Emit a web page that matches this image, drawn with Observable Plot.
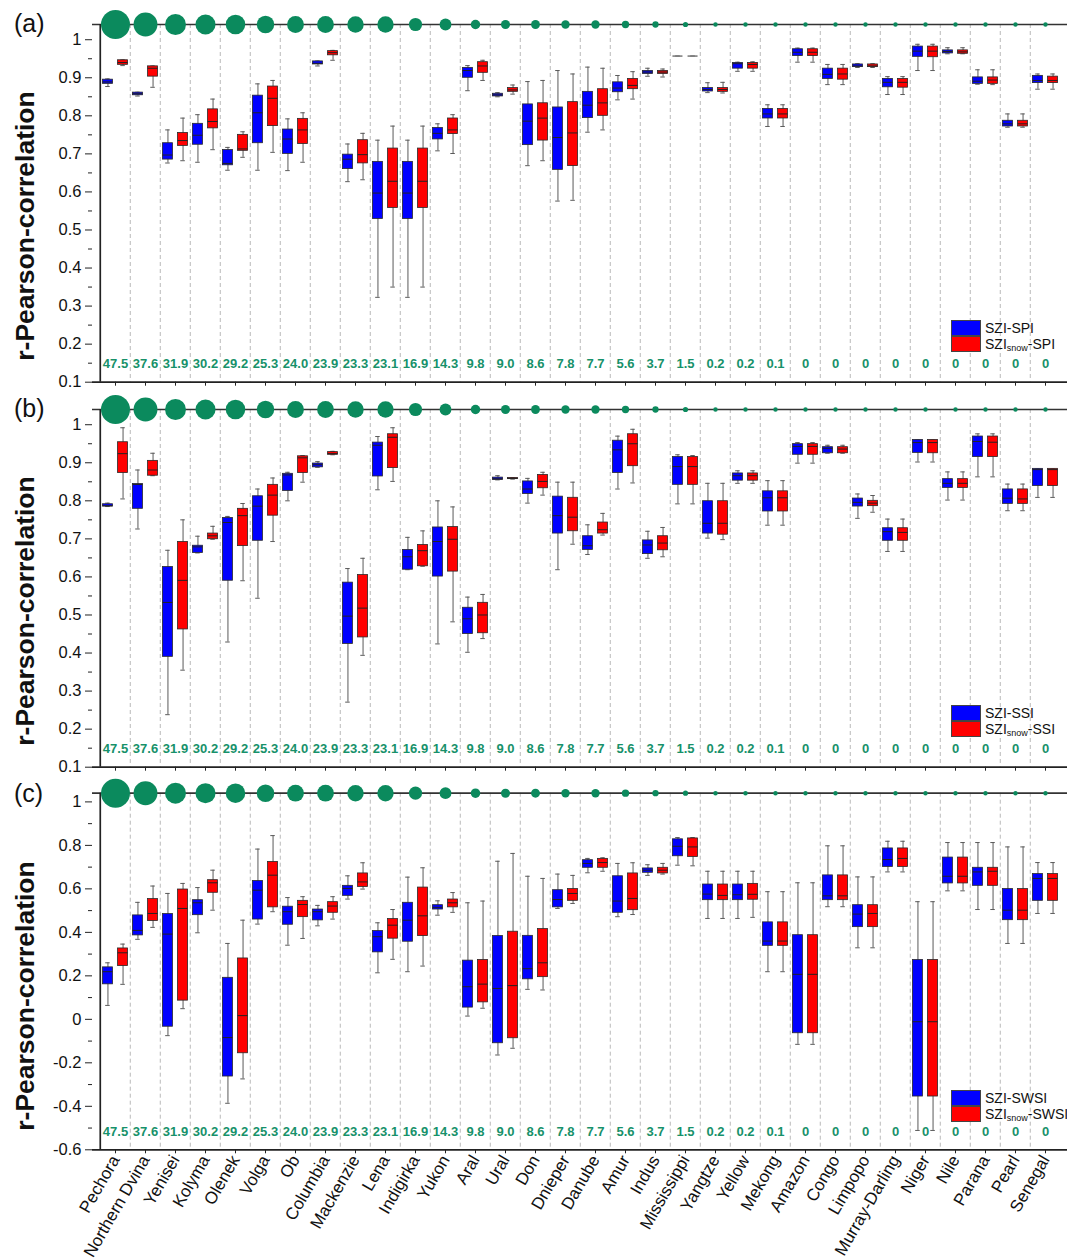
<!DOCTYPE html>
<html><head><meta charset="utf-8">
<script src="https://cdn.jsdelivr.net/npm/d3@7"></script>
<script src="https://cdn.jsdelivr.net/npm/@observablehq/plot@0.6"></script>
<style>
body{margin:0;background:#fff;font-family:"Liberation Sans",Arial,sans-serif;}
#root{position:relative;width:1067px;height:1260px;overflow:hidden;background:#fff;}
.panel{position:absolute;left:0;width:1067px;}
.panel svg{position:absolute;left:0;top:0;}
.plabel{position:absolute;left:14px;top:11px;font-size:25px;line-height:1;color:#111;}
.ytitle{position:absolute;left:-125px;width:300px;height:30px;line-height:30px;text-align:center;font-size:26.5px;font-weight:bold;color:#111;transform:rotate(-90deg);transform-origin:center;}
.legend{position:absolute;left:951px;font-size:14px;color:#111;}
.legend .row{height:16px;line-height:16px;display:flex;align-items:center;white-space:nowrap;}
.legend .sw{display:inline-block;width:28px;height:14px;border:1px solid #444;margin-right:4px;}
.legend sub{font-size:9px;position:relative;top:4px;line-height:0;}
</style></head><body><div id="root"></div>
<script>
const rivers = ["Pechora","Northern Dvina","Yenisei","Kolyma","Olenek","Volga","Ob","Columbia","Mackenzie","Lena","Indigirka","Yukon","Aral","Ural","Don","Dnieper","Danube","Amur","Indus","Mississippi","Yangtze","Yellow","Mekong","Amazon","Congo","Limpopo","Murray-Darling","Niger","Nile","Parana","Pearl","Senegal"];
const snowShare = [47.5,37.6,31.9,30.2,29.2,25.3,24.0,23.9,23.3,23.1,16.9,14.3,9.8,9.0,8.6,7.8,7.7,5.6,3.7,1.5,0.2,0.2,0.1,0,0,0,0,0,0,0,0,0];

// [whisker low, q1, median, q3, whisker high]
const spiBlue = [
[0.877,0.884,0.889,0.895,0.897],[0.852,0.854,0.858,0.861,0.862],[0.676,0.685,0.697,0.728,0.763],[0.678,0.724,0.749,0.779,0.803],
[0.657,0.670,0.675,0.710,0.717],[0.657,0.728,0.808,0.853,0.884],[0.656,0.700,0.739,0.764,0.792],[0.931,0.935,0.938,0.943,0.944],
[0.627,0.660,0.686,0.698,0.726],[0.323,0.529,0.597,0.679,0.736],[0.323,0.529,0.597,0.679,0.736],[0.708,0.738,0.754,0.768,0.779],
[0.866,0.900,0.919,0.926,0.932],[0.850,0.851,0.855,0.858,0.861],[0.669,0.723,0.786,0.830,0.890],[0.576,0.658,0.743,0.822,0.919],
[0.757,0.794,0.828,0.863,0.928],[0.842,0.862,0.873,0.888,0.906],[0.904,0.910,0.915,0.918,0.925],[0.957,0.957,0.957,0.957,0.957],
[0.861,0.864,0.869,0.873,0.887],[0.917,0.924,0.937,0.939,0.941],[0.772,0.793,0.805,0.818,0.829],[0.941,0.957,0.967,0.975,0.978],
[0.882,0.897,0.909,0.924,0.935],[0.927,0.928,0.931,0.935,0.937],[0.856,0.875,0.888,0.897,0.903],[0.919,0.955,0.970,0.982,0.988],
[0.963,0.964,0.969,0.972,0.979],[0.883,0.884,0.891,0.901,0.921],[0.770,0.772,0.779,0.787,0.805],[0.870,0.886,0.893,0.905,0.910]];
const spiRed = [
[0.932,0.934,0.940,0.946,0.947],[0.875,0.903,0.925,0.930,0.931],[0.682,0.721,0.735,0.755,0.794],[0.711,0.767,0.785,0.817,0.844],
[0.691,0.708,0.713,0.750,0.758],[0.704,0.773,0.846,0.877,0.893],[0.678,0.726,0.763,0.792,0.808],[0.946,0.959,0.966,0.970,0.972],
[0.632,0.675,0.698,0.736,0.754],[0.350,0.558,0.628,0.714,0.773],[0.350,0.558,0.628,0.714,0.773],[0.701,0.752,0.763,0.793,0.803],
[0.893,0.913,0.931,0.941,0.946],[0.857,0.863,0.868,0.873,0.881],[0.682,0.735,0.794,0.833,0.893],[0.578,0.668,0.755,0.836,0.910],
[0.763,0.800,0.834,0.870,0.925],[0.844,0.870,0.880,0.897,0.916],[0.902,0.910,0.915,0.918,0.923],[0.957,0.957,0.957,0.957,0.957],
[0.860,0.863,0.869,0.873,0.888],[0.917,0.924,0.935,0.939,0.942],[0.772,0.793,0.805,0.818,0.829],[0.941,0.957,0.967,0.975,0.978],
[0.882,0.895,0.910,0.924,0.935],[0.927,0.928,0.931,0.935,0.937],[0.856,0.874,0.888,0.897,0.903],[0.919,0.954,0.970,0.982,0.988],
[0.963,0.963,0.968,0.972,0.979],[0.882,0.884,0.894,0.901,0.921],[0.770,0.772,0.779,0.787,0.805],[0.870,0.886,0.893,0.903,0.910]];

const ssiBlue = [
[0.785,0.785,0.787,0.791,0.794],[0.726,0.779,0.843,0.844,0.881],[0.238,0.390,0.533,0.626,0.670],[0.663,0.663,0.679,0.682,0.707],
[0.429,0.590,0.743,0.755,0.759],[0.544,0.695,0.786,0.812,0.831],[0.800,0.826,0.868,0.871,0.875],[0.888,0.888,0.895,0.898,0.903],
[0.271,0.424,0.497,0.585,0.622],[0.829,0.864,0.946,0.953,0.969],[0.619,0.619,0.653,0.671,0.704],[0.424,0.601,0.693,0.730,0.800],
[0.402,0.450,0.490,0.519,0.547],[0.855,0.855,0.858,0.861,0.866],[0.794,0.818,0.831,0.851,0.859],[0.619,0.714,0.761,0.811,0.849],
[0.659,0.671,0.682,0.707,0.737],[0.831,0.873,0.934,0.958,0.970],[0.649,0.660,0.684,0.696,0.720],[0.792,0.842,0.890,0.915,0.921],
[0.702,0.714,0.741,0.799,0.846],[0.846,0.853,0.866,0.872,0.879],[0.736,0.772,0.808,0.825,0.853],[0.899,0.921,0.943,0.949,0.953],
[0.925,0.925,0.938,0.941,0.946],[0.754,0.785,0.796,0.806,0.818],[0.667,0.695,0.719,0.728,0.752],[0.902,0.926,0.953,0.960,0.960],
[0.802,0.834,0.846,0.857,0.876],[0.863,0.915,0.956,0.969,0.976],[0.774,0.792,0.807,0.830,0.844],[0.809,0.839,0.882,0.884,0.884]];
const ssiRed = [
[0.805,0.873,0.924,0.954,0.992],[0.866,0.866,0.881,0.905,0.925],[0.355,0.462,0.591,0.692,0.750],[0.699,0.699,0.708,0.714,0.733],
[0.590,0.681,0.761,0.779,0.793],[0.693,0.761,0.815,0.842,0.860],[0.849,0.873,0.913,0.917,0.919],[0.921,0.921,0.924,0.928,0.930],
[0.394,0.441,0.518,0.605,0.649],[0.851,0.886,0.967,0.975,0.992],[0.628,0.628,0.669,0.684,0.721],[0.482,0.614,0.699,0.731,0.784],
[0.438,0.452,0.500,0.532,0.554],[0.857,0.857,0.859,0.860,0.861],[0.815,0.833,0.851,0.868,0.875],[0.686,0.720,0.757,0.808,0.849],
[0.710,0.714,0.724,0.743,0.767],[0.847,0.891,0.950,0.975,0.988],[0.653,0.670,0.689,0.707,0.730],[0.792,0.842,0.890,0.915,0.919],
[0.698,0.711,0.741,0.799,0.846],[0.846,0.853,0.866,0.872,0.879],[0.736,0.772,0.808,0.825,0.853],[0.899,0.921,0.943,0.949,0.953],
[0.925,0.925,0.936,0.941,0.946],[0.770,0.786,0.794,0.800,0.814],[0.667,0.695,0.717,0.728,0.752],[0.902,0.925,0.953,0.960,0.960],
[0.802,0.834,0.846,0.857,0.876],[0.863,0.915,0.954,0.969,0.976],[0.774,0.792,0.805,0.830,0.844],[0.809,0.839,0.882,0.884,0.884]];

const swsiBlue = [
[0.064,0.161,0.219,0.239,0.260],[0.368,0.386,0.409,0.478,0.538],[-0.075,-0.034,0.392,0.484,0.579],[0.398,0.479,0.536,0.548,0.606],
[-0.386,-0.263,-0.084,0.191,0.349],[0.438,0.459,0.594,0.636,0.783],[0.341,0.435,0.495,0.518,0.560],[0.430,0.455,0.495,0.505,0.524],
[0.553,0.568,0.602,0.614,0.660],[0.214,0.308,0.380,0.406,0.444],[0.219,0.357,0.456,0.536,0.654],[0.479,0.505,0.515,0.525,0.545],
[0.015,0.054,0.150,0.270,0.536],[-0.164,-0.110,0.142,0.383,0.727],[0.138,0.184,0.233,0.384,0.658],[0.510,0.515,0.551,0.594,0.668],
[0.674,0.697,0.717,0.732,0.740],[0.472,0.490,0.544,0.658,0.717],[0.662,0.674,0.686,0.694,0.711],[0.709,0.750,0.796,0.828,0.836],
[0.464,0.548,0.576,0.620,0.681],[0.464,0.548,0.573,0.620,0.681],[0.219,0.338,0.360,0.446,0.587],[-0.115,-0.064,0.207,0.387,0.628],
[0.518,0.548,0.568,0.662,0.798],[0.329,0.424,0.484,0.525,0.655],[0.678,0.701,0.735,0.786,0.819],[-0.511,-0.355,-0.011,0.273,0.541],
[0.591,0.625,0.658,0.744,0.813],[0.505,0.614,0.678,0.697,0.813],[0.349,0.456,0.502,0.599,0.793],[0.487,0.545,0.648,0.668,0.721]];
const swsiRed = [
[0.161,0.245,0.306,0.326,0.346],[0.423,0.452,0.487,0.553,0.613],[0.049,0.086,0.510,0.597,0.625],[0.502,0.582,0.628,0.640,0.686],
[-0.274,-0.156,0.017,0.280,0.456],[0.495,0.515,0.663,0.724,0.845],[0.372,0.470,0.528,0.545,0.564],[0.461,0.490,0.521,0.539,0.564],
[0.599,0.609,0.632,0.671,0.720],[0.276,0.371,0.433,0.461,0.505],[0.245,0.383,0.476,0.606,0.697],[0.492,0.515,0.536,0.551,0.583],
[0.051,0.078,0.162,0.273,0.544],[-0.133,-0.087,0.155,0.403,0.763],[0.135,0.194,0.260,0.415,0.648],[0.533,0.545,0.579,0.599,0.662],
[0.681,0.697,0.721,0.738,0.743],[0.482,0.502,0.556,0.671,0.720],[0.668,0.671,0.686,0.697,0.717],[0.706,0.747,0.793,0.832,0.836],
[0.464,0.548,0.570,0.620,0.681],[0.469,0.550,0.575,0.623,0.681],[0.219,0.338,0.360,0.446,0.587],[-0.115,-0.064,0.207,0.387,0.628],
[0.518,0.548,0.568,0.662,0.798],[0.329,0.424,0.487,0.525,0.655],[0.678,0.701,0.740,0.786,0.819],[-0.511,-0.355,-0.011,0.273,0.541],
[0.591,0.625,0.658,0.744,0.813],[0.505,0.614,0.681,0.697,0.813],[0.349,0.456,0.502,0.599,0.793],[0.487,0.545,0.648,0.668,0.721]];

const yDomainAB = [0.1, 1.04];
const yTicksAB = [0.1,0.2,0.3,0.4,0.5,0.6,0.7,0.8,0.9,1];
const yMinorAB = [0.15,0.25,0.35,0.45,0.55,0.65,0.75,0.85,0.95];
const yDomainC = [-0.6, 1.04];
const yTicksC = [-0.6,-0.4,-0.2,0,0.2,0.4,0.6,0.8,1];
const yMinorC = [-0.5,-0.3,-0.1,0.1,0.3,0.5,0.7,0.9];

const panels = [
  {label:"(a)", top:0, height:385, mt:24, mb:3.3, blue:spiBlue, red:spiRed, yDomain:yDomainAB, ticks:yTicksAB, minor:yMinorAB, names:false, leg:["SZI-SPI","SZI<sub>snow</sub>-SPI"]},
  {label:"(b)", top:385, height:385, mt:24, mb:3.3, blue:ssiBlue, red:ssiRed, yDomain:yDomainAB, ticks:yTicksAB, minor:yMinorAB, names:false, leg:["SZI-SSI","SZI<sub>snow</sub>-SSI"]},
  {label:"(c)", top:770, height:490, mt:22.7, mb:110.7, blue:swsiBlue, red:swsiRed, yDomain:yDomainC, ticks:yTicksC, minor:yMinorC, names:true, leg:["SZI-SWSI","SZI<sub>snow</sub>-SWSI"]}
];

const W = 1067, ML = 92, MR = 0;
const GREEN = "#0b8a5d", GREEN_TXT = "#17916a";
const BLUE = "#0000ff", RED = "#ff0000";
const fmtY = d => String(+d.toFixed(2));
const fmtPct = v => v === 0 ? "0" : v.toFixed(1);

const root = document.getElementById("root");

for (const p of panels) {
  const rows = rivers.map((river, i) => ({river, pct: snowShare[i], b: p.blue[i], r: p.red[i]}));
  const bw = (W - ML - MR) / rivers.length;
  const half = bw / 2;
  const boxW = 10.5, gap = 2.3, capHalf = 2.5;
  const bCx = -(gap + boxW / 2), rCx = gap + boxW / 2;
  const bIn = {insetLeft: half - gap - boxW, insetRight: half + gap};
  const rIn = {insetLeft: half + gap, insetRight: half - gap - boxW};
  const capIn = cx => ({insetLeft: half + cx - capHalf, insetRight: half - cx - capHalf});

  const series = [["b", BLUE, bCx, bIn], ["r", RED, rCx, rIn]];
  const boxMarks = [];
  for (const [k, color, cx, ins] of series) {
    boxMarks.push(
      Plot.ruleX(rows, {x: "river", y1: d => d[k][0], y2: d => d[k][4], dx: cx, stroke: "#5a5a5a", strokeWidth: 1}),
      Plot.tickY(rows, {x: "river", y: d => d[k][0], ...capIn(cx), stroke: "#5a5a5a", strokeWidth: 1}),
      Plot.tickY(rows, {x: "river", y: d => d[k][4], ...capIn(cx), stroke: "#5a5a5a", strokeWidth: 1}),
      Plot.barY(rows, {x: "river", y1: d => d[k][1], y2: d => d[k][3], fill: color, stroke: "#2a2a2a", strokeWidth: 0.8, ...ins}),
      Plot.tickY(rows, {x: "river", y: d => d[k][2], ...ins,
        stroke: d => d[k][1] === d[k][3] ? "#808080" : "#222",
        strokeWidth: d => d[k][1] === d[k][3] ? 1.6 : 1})
    );
  }

  const svg = Plot.plot({
    width: W, height: p.height,
    marginLeft: ML, marginRight: MR, marginTop: p.mt, marginBottom: p.mb,
    style: {background: "transparent", overflow: "visible", fontFamily: "'Liberation Sans', Arial, sans-serif", color: "#111"},
    x: {type: "band", domain: rivers, padding: 0},
    y: {domain: p.yDomain},
    r: {type: "linear", domain: [0, 47.5], range: [2.2, 14.5]},
    marks: [
      Plot.ruleX(rivers.slice(1), {dx: -half, stroke: "#b9b9b9", strokeWidth: 1, strokeDasharray: "4,3"}),
      ...boxMarks,
      Plot.text(rows, {x: "river", text: d => fmtPct(d.pct), frameAnchor: "bottom", dy: -14, fill: GREEN_TXT, fontWeight: "bold", fontSize: 13}),
      Plot.ruleY([p.yDomain[0]], {stroke: "#222", strokeWidth: 1.7}),
      Plot.ruleY([p.yDomain[1]], {stroke: "#333", strokeWidth: 1.7}),
      Plot.ruleX([rivers[0]], {dx: -half, stroke: "#222", strokeWidth: 1.7}),
      Plot.dot(rows, {x: "river", y: () => p.yDomain[1], r: "pct", fill: GREEN, stroke: "none"}),
      Plot.axisY(p.ticks, {tickSize: 7, tickPadding: 4, tickFormat: fmtY, fontSize: 16.5, label: null, stroke: "#222"}),
      Plot.axisY(p.minor, {tickSize: 4, tickFormat: () => "", label: null, stroke: "#222"}),
      Plot.axisX({tickSize: 4, tickPadding: 3, tickFormat: p.names ? (d => d) : (() => ""), tickRotate: p.names ? -60 : 0, fontSize: 17, label: null, stroke: "#222"})
    ]
  });

  const div = document.createElement("div");
  div.className = "panel";
  div.style.top = p.top + "px";
  div.style.height = p.height + "px";
  div.appendChild(svg);

  const lab = document.createElement("div");
  lab.className = "plabel";
  lab.textContent = p.label;
  div.appendChild(lab);

  const yt = document.createElement("div");
  yt.className = "ytitle";
  yt.style.top = (226 - 15) + "px";
  yt.textContent = "r-Pearson-correlation";
  div.appendChild(yt);

  const leg = document.createElement("div");
  leg.className = "legend";
  leg.style.top = "320px";
  leg.innerHTML = `<div class="row"><span class="sw" style="background:${BLUE}"></span>${p.leg[0]}</div>` +
                  `<div class="row"><span class="sw" style="background:${RED}"></span>${p.leg[1]}</div>`;
  div.appendChild(leg);

  root.appendChild(div);
}
</script>
</body></html>
